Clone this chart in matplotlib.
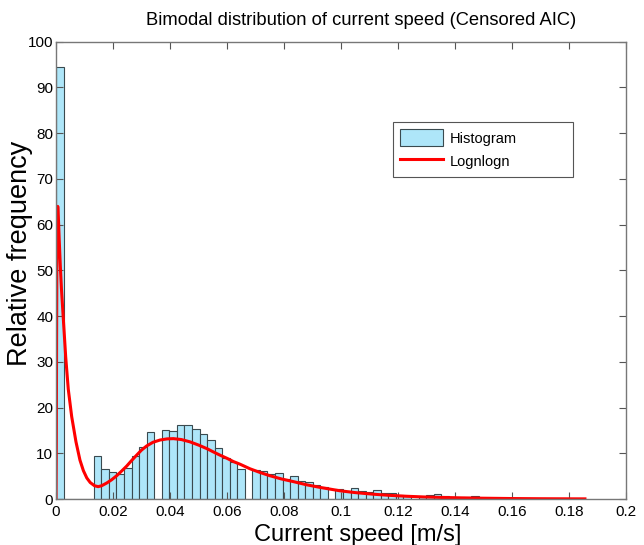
import matplotlib
matplotlib.use("Agg")
import matplotlib.pyplot as plt
from matplotlib.ticker import FuncFormatter

plt.rcParams['font.family'] = ['Liberation Sans', 'DejaVu Sans']

# Histogram (relative frequency density), bin width and heights
bin_width = 0.00265
bar_heights = [94.5, 0, 0, 0, 0, 9.5, 6.6, 5.9, 5.5, 6.8,
               9.4, 11.3, 14.6, 0, 15.0, 14.8, 16.1, 16.1, 15.4, 14.2,
               12.9, 11.1, 9.0, 8.0, 6.6, 0, 6.3, 6.1, 5.4, 5.7,
               4.3, 5.0, 4.0, 3.7, 3.0, 2.6, 0, 2.1, 1.8, 2.3,
               1.7, 1.5, 1.9, 1.4, 1.4, 0.9, 0.7, 0, 0.4, 0.8,
               1.2, 0.6, 0.4, 0.4, 0.5, 0.7, 0.3, 0.2, 0.1, 0.1,
               0.1, 0.1, 0, 0, 0, 0, 0, 0, 0, 0]
bar_left = [i * bin_width for i in range(len(bar_heights))]

# Fitted Lognlogn curve
curve_x = [0.0, 0.0001, 0.0002, 0.0003, 0.0004, 0.0006, 0.0008, 0.0011, 0.0015, 0.0019,
           0.0023, 0.0028, 0.0034, 0.0043, 0.0055, 0.0070, 0.0084, 0.0096, 0.0108, 0.0120,
           0.0135, 0.0148, 0.0160, 0.0178, 0.0195, 0.0213, 0.0230, 0.0248, 0.0265, 0.0283,
           0.0300, 0.0318, 0.0340, 0.0365, 0.0390, 0.0412, 0.0440, 0.0470, 0.0500, 0.0530,
           0.0552, 0.0575, 0.0600, 0.0622, 0.0646, 0.0681, 0.0716, 0.0750, 0.0790, 0.0833,
           0.0880, 0.0930, 0.0996, 0.1050, 0.1113, 0.1170, 0.1230, 0.1290, 0.1347, 0.1420,
           0.1500, 0.1600, 0.1700, 0.1800, 0.1856]
curve_y = [0.0, 12, 35, 52, 60, 64, 62, 57, 51, 46,
           42, 37, 31, 24, 18, 12.5, 8.5, 6.2, 4.6, 3.6,
           2.9, 2.7, 2.9, 3.5, 4.2, 5.1, 6.1, 7.2, 8.4, 9.6,
           10.7, 11.6, 12.4, 12.9, 13.15, 13.2, 13.0, 12.5, 11.8, 11.0,
           10.3, 9.6, 8.9, 8.2, 7.6, 6.6, 5.8, 5.1, 4.4, 3.8,
           3.1, 2.5, 1.8, 1.4, 1.05, 0.8, 0.6, 0.45, 0.35, 0.25,
           0.17, 0.1, 0.06, 0.04, 0.03]

x_ticks = [0, 0.02, 0.04, 0.06, 0.08, 0.1, 0.12, 0.14, 0.16, 0.18, 0.2]
y_ticks = list(range(0, 101, 10))

fig = plt.figure(figsize=(6.44, 5.45), dpi=100)
ax = fig.add_axes([0.087, 0.0844, 0.885, 0.839])

bars = ax.bar(bar_left, bar_heights, width=bin_width, align='edge',
              color='#AEE6F9', edgecolor='#3a4a4f', linewidth=0.8, label='Histogram')
line, = ax.plot(curve_x, curve_y, color='#ff0000', linewidth=2.2, label='Lognlogn')

ax.set_xlim(0, 0.2)
ax.set_ylim(0, 100)
ax.set_xticks(x_ticks)
ax.set_yticks(y_ticks)
ax.xaxis.set_major_formatter(FuncFormatter(lambda v, p: '%g' % round(v, 3)))
ax.tick_params(direction='in', top=True, right=True, labelsize=11, length=5,
               color='#555555')
ax.tick_params(axis='x', pad=4)
ax.tick_params(axis='y', pad=2)
for s in ax.spines.values():
    s.set_color('#777777')
    s.set_linewidth(1.0)

ax.set_xlabel('Current speed [m/s]', fontsize=17)
ax.xaxis.set_label_coords(0.53, -0.055)
ax.set_ylabel('Relative frequency', fontsize=19.5)
ax.yaxis.set_label_coords(-0.040, 0.538)
ax.set_title('Bimodal distribution of current speed (Censored AIC)', fontsize=13.2,
             pad=12, x=0.535)

leg = ax.legend([bars, line], ['Histogram', 'Lognlogn'], loc='upper left',
                bbox_to_anchor=(0.591, 0.825, 0.316, 0.0), mode='expand',
                fontsize=10.5, frameon=True, fancybox=False, edgecolor='#555555',
                framealpha=1, handlelength=2.95, handleheight=1.45,
                handletextpad=0.46, borderpad=0.5, labelspacing=0.4,
                borderaxespad=0.0)
leg.get_frame().set_linewidth(0.8)

fig.savefig('out.png', dpi=100)
